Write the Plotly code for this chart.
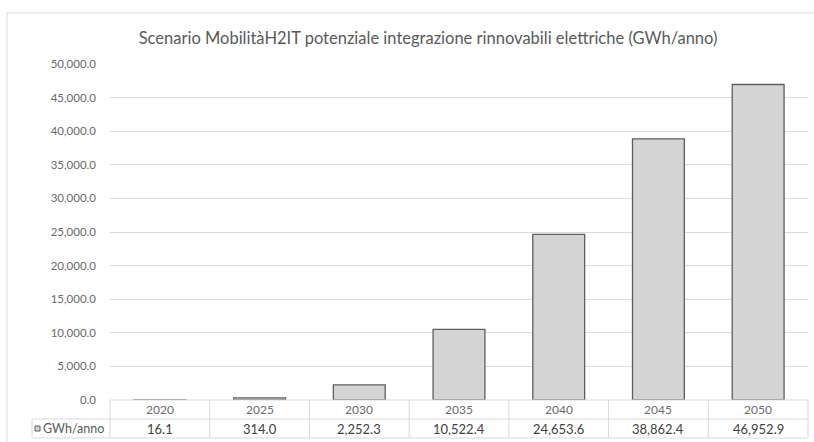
import plotly.graph_objects as go

# 資料
years = ['2020', '2025', '2030', '2035', '2040', '2045', '2050']
gwh = [16.1, 314.0, 2252.3, 10522.4, 24653.6, 38862.4, 46952.9]
series_name = 'GWh/anno'
title = 'Scenario MobilitàH2IT potenziale integrazione rinnovabili elettriche (GWh/anno)'
y_ticks = list(range(0, 50001, 5000))

FONT = 'Lato'
TXT = '#595959'
GRID = '#d9d9d9'

W, H = 814, 442
L, R, T, B = 110, 6, 64, 42
plot_h = H - T - B


def py(px):
    """像素 y (從頂端) 轉 paper y"""
    return (H - B - px) / plot_h


def px_x(px):
    return (px - L) / (W - L - R)


fig = go.Figure()

fig.add_trace(go.Bar(
    x=years, y=gwh,
    marker=dict(color='#d4d4d4', line=dict(color='#5e5e5e', width=1.3)),
    name=series_name,
    showlegend=False,
))

fig.update_layout(
    template='none',
    width=W, height=H,
    margin=dict(l=L, r=R, t=T, b=B),
    paper_bgcolor='white', plot_bgcolor='white',
    bargap=0.48,
    font=dict(family=FONT, color=TXT, size=10),
    title=dict(text=title, x=428 / W, xref='container', xanchor='center',
               y=1 - 38 / H, yanchor='middle',
               font=dict(family=FONT, size=16.5, color=TXT)),
    xaxis=dict(type='category', range=[-0.5, len(years) - 0.5],
               showticklabels=False, showgrid=False,
               zeroline=False, showline=False, ticks=''),
    yaxis=dict(range=[0, 50000], tickvals=y_ticks,
               ticktext=[f'{v:,.1f}' for v in y_ticks],
               showgrid=True, gridcolor=GRID, gridwidth=1,
               zeroline=False, showline=False, ticks='',
               ticklabelstandoff=13,
               tickfont=dict(size=11.5, color='#6a6a6a', family=FONT)),
)

# ── 資料表 ──
row1_top, row1_bot, row2_bot = 400, 419, 438
shapes = []
line = dict(color=GRID, width=1)
shapes.append(dict(type='line', xref='paper', yref='paper', x0=0, x1=1,
                   y0=py(row1_top), y1=py(row1_top), line=line))
shapes.append(dict(type='line', xref='paper', yref='paper', x0=px_x(32), x1=1,
                   y0=py(row1_bot), y1=py(row1_bot), line=line))
shapes.append(dict(type='line', xref='paper', yref='paper', x0=px_x(32), x1=1,
                   y0=py(row2_bot), y1=py(row2_bot), line=line))
shapes.append(dict(type='line', xref='paper', yref='paper', x0=px_x(32), x1=px_x(32),
                   y0=py(row1_bot), y1=py(row2_bot), line=line))
n = len(years)
for i in range(n + 1):
    shapes.append(dict(type='line', xref='paper', yref='paper', x0=i / n, x1=i / n,
                       y0=py(row1_top), y1=py(row2_bot), line=line))

# 圖例方塊
shapes.append(dict(type='rect', xref='paper', yref='paper',
                   x0=px_x(35), x1=px_x(40), y0=py(426), y1=py(431),
                   fillcolor='#d4d4d4', line=dict(color='#5e5e5e', width=1)))

# 外框
shapes.append(dict(type='line', xref='paper', yref='paper', x0=px_x(7), x1=px_x(W),
                   y0=py(13), y1=py(13), line=line))
shapes.append(dict(type='line', xref='paper', yref='paper', x0=px_x(7), x1=px_x(7),
                   y0=py(13), y1=py(H), line=line))

annotations = []
for i, (yr, v) in enumerate(zip(years, gwh)):
    annotations.append(dict(x=i, xref='x', yref='paper', y=py((row1_top + row1_bot) / 2),
                            text=yr, showarrow=False, yanchor='middle',
                            font=dict(size=12, color='#6a6a6a', family=FONT)))
    annotations.append(dict(x=i, xref='x', yref='paper', y=py((row1_bot + row2_bot) / 2),
                            text=f'{v:,.1f}', showarrow=False, yanchor='middle',
                            font=dict(size=13, color='#404040', family=FONT)))
annotations.append(dict(x=px_x(41), xref='paper', yref='paper', y=py((row1_bot + row2_bot) / 2),
                        text=series_name, showarrow=False, xanchor='left', yanchor='middle',
                        font=dict(size=12.5, color=TXT, family=FONT)))

fig.update_layout(shapes=shapes, annotations=annotations)

fig.write_html('out.html', config={'displayModeBar': False},
               post_script="document.body.style.margin='0';")
